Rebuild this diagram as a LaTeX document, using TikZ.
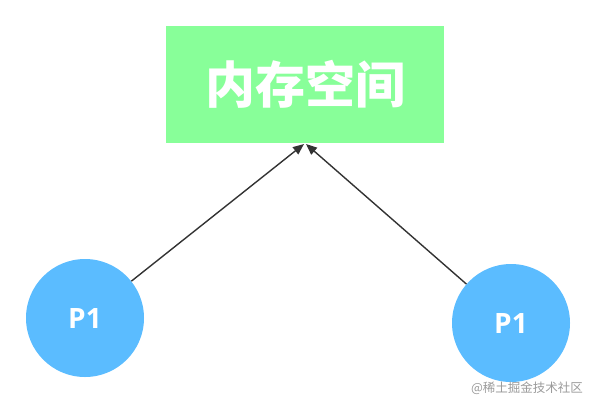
\documentclass[tikz,border=0pt]{standalone}
\usepackage{fontspec}
\newfontfamily\cjk{Noto Sans CJK SC}
\newfontfamily\lat{Open Sans}
\usetikzlibrary{arrows.meta}
\definecolor{boxgreen}{HTML}{88FF99}
\definecolor{procblue}{HTML}{5BBCFF}
\definecolor{arrowgray}{HTML}{333333}
\definecolor{wmgray}{HTML}{9A9A9A}
\tikzset{
  membox/.style={fill=boxgreen, draw=none, minimum width=278pt, minimum height=117pt, inner sep=0pt,
    font=\cjk\bfseries\fontsize{50}{50}\selectfont, text=white},
  proc/.style={circle, fill=procblue, draw=none, minimum size=118pt, inner sep=0pt,
    font=\lat\bfseries\fontsize{28}{28}\selectfont, text=white},
  conn/.style={draw=arrowgray, line width=1.4pt, -{Triangle[length=11pt,width=9pt]}},
  wm/.style={font=\cjk\fontsize{12.5}{13}\selectfont, text=wmgray, inner sep=0pt}
}
\begin{document}
\begin{tikzpicture}[x=1pt,y=-1pt]
\useasboundingbox (0,0) rectangle (596,408);
\node[membox] (mem) at (305,84.5) {内存空间};
\node[proc] (pa) at (85,318) {P1};
\node[proc] (pb) at (511,323) {P1};
\coordinate (ta) at (304,144);
\coordinate (tb) at (306,144);
\draw[conn] (pa) -- (ta);
\draw[conn] (pb) -- (tb);
\node[wm] (wmk) at (527,388) {@稀土掘金技术社区};
\end{tikzpicture}
\end{document}
